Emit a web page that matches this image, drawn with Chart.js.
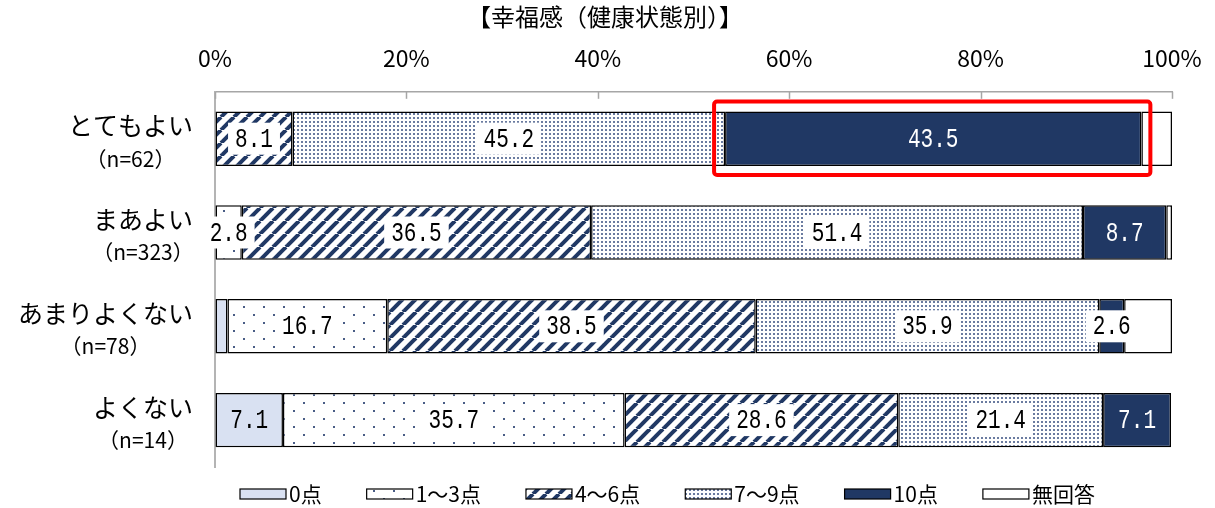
<!DOCTYPE html>
<html lang="ja">
<head>
<meta charset="utf-8">
<title>幸福感（健康状態別）</title>
<script src="https://cdn.jsdelivr.net/npm/chart.js@4.4.1/dist/chart.umd.min.js"></script>
<style>
  html, body { margin: 0; padding: 0; background: #fff; }
  #wrap { width: 1215px; height: 508px; }
</style>
</head>
<body>
<div id="wrap"><canvas id="chart" width="1215" height="508"></canvas></div>
<script>
const categories = ['とてもよい', 'まあよい', 'あまりよくない', 'よくない'];
const sampleSizes = ['（n=62）', '（n=323）', '（n=78）', '（n=14）'];
const seriesNames = ['0点', '1～3点', '4～6点', '7～9点', '10点', '無回答'];
const score0 = [0, 0, 1.3, 7.1];
const score1to3 = [0, 2.8, 16.7, 35.7];
const score4to6 = [8.1, 36.5, 38.5, 28.6];
const score7to9 = [45.2, 51.4, 35.9, 21.4];
const score10 = [43.5, 8.7, 2.6, 7.1];
const noAnswer = [3.2, 0.6, 5.0, 0];
const xTicks = [0, 20, 40, 60, 80, 100];

const NAVY = '#203864';
const FONT = "'Noto Sans CJK JP', 'Noto Sans', sans-serif";

// small tiles for the hatch/dot fills
function pat(w, h, draw) {
  const c = document.createElement('canvas');
  c.width = w; c.height = h;
  const g = c.getContext('2d');
  g.fillStyle = '#fff'; g.fillRect(0, 0, w, h);
  draw(g);
  return g.createPattern(c, 'repeat');
}
const sparseDots = pat(20, 16, g => { g.fillStyle = '#4a5d86'; g.fillRect(3, 2, 2, 2); g.fillRect(13, 10, 2, 2); });
const stripes = pat(13, 13, g => {
  g.strokeStyle = NAVY; g.lineWidth = 4;
  for (const k of [-1, 0, 1]) { g.beginPath(); g.moveTo(k * 13, 13); g.lineTo(k * 13 + 13, 0); g.stroke(); }
});
const denseDots = pat(4, 4, g => { g.fillStyle = '#6a7ba0'; g.fillRect(1, 1, 2, 2); });

const fills = ['#d9e1f2', sparseDots, stripes, denseDots, NAVY, '#fff'];
const values = [score0, score1to3, score4to6, score7to9, score10, noAnswer];

const datasets = seriesNames.map((name, i) => ({
  label: name, data: values[i], backgroundColor: fills[i],
  borderColor: '#000', borderWidth: 1.5, borderSkipped: false,
  barPercentage: 0.58, categoryPercentage: 1,
}));

const decor = {
  id: 'decor',
  afterDatasetsDraw(chart) {
    const ctx = chart.ctx, x = chart.scales.x, y = chart.scales.y, area = chart.chartArea;
    ctx.save();
    // inner tick marks on the top axis
    ctx.strokeStyle = '#a6a6a6'; ctx.lineWidth = 1.5;
    xTicks.forEach(v => { const px = Math.round(x.getPixelForValue(v)) + 0.5; ctx.beginPath(); ctx.moveTo(px, area.top); ctx.lineTo(px, area.top + 7); ctx.stroke(); });

    // value labels
    chart.data.datasets.forEach((ds, di) => {
      if (di === 5) return;
      chart.getDatasetMeta(di).data.forEach((el, i) => {
        const v = ds.data[i];
        if (v < 2) return;
        const cx = (el.x + el.base) / 2, cy = el.y;
        const txt = v.toFixed(1);
        ctx.font = "27px 'Liberation Mono'";
        const w = ctx.measureText(txt).width * 0.78;
        const light = di === 4 && v >= 5;
        if (!light && di !== 0) { ctx.fillStyle = '#fff'; ctx.fillRect(cx - w / 2 - 7, cy - 16, w + 14, 32); }
        ctx.save();
        ctx.translate(cx, cy + 1); ctx.scale(0.78, 1);
        ctx.fillStyle = light ? '#fff' : '#000';
        ctx.textAlign = 'center'; ctx.textBaseline = 'middle';
        ctx.fillText(txt, 0, 0);
        ctx.restore();
      });
    });

    // red highlight round the 10点 bar of the first row
    const hl = chart.getDatasetMeta(4).data[0];
    ctx.strokeStyle = '#ff0000'; ctx.lineWidth = 4;
    ctx.beginPath();
    ctx.roundRect(hl.base - 11, hl.y - hl.height / 2 - 10, hl.x - hl.base + 20, hl.height + 19, 3);
    ctx.stroke();

    // category labels, two centred lines right-aligned as a block
    ctx.fillStyle = '#000'; ctx.textAlign = 'center'; ctx.textBaseline = 'middle';
    categories.forEach((c, i) => {
      const cy = y.getPixelForValue(i);
      ctx.font = '25px ' + FONT;
      const w1 = ctx.measureText(c).width;
      const cx = area.left - 22 - w1 / 2;
      ctx.fillText(c, cx, cy - 13);
      ctx.font = '21px ' + FONT;
      ctx.fillText(sampleSizes[i], cx, cy + 20);
    });
    ctx.restore();
  },
  afterDraw(chart) {
    // legend along the bottom
    const ctx = chart.ctx;
    ctx.save();
    ctx.font = '21px ' + FONT; ctx.textBaseline = 'middle'; ctx.textAlign = 'left';
    let lx = 240; const ly = 494;
    chart.data.datasets.forEach(ds => {
      ctx.fillStyle = ds.backgroundColor; ctx.fillRect(lx, ly - 5, 46, 10);
      ctx.strokeStyle = '#000'; ctx.lineWidth = 1.2; ctx.strokeRect(lx, ly - 5, 46, 10);
      ctx.fillStyle = '#000'; ctx.fillText(ds.label, lx + 49, ly);
      lx += 49 + ctx.measureText(ds.label).width + 45;
    });
    ctx.restore();
  },
};

new Chart(document.getElementById('chart'), {
  type: 'bar',
  data: { labels: categories, datasets },
  options: {
    responsive: false, animation: false, indexAxis: 'y',
    layout: { padding: { left: 38, right: 43, top: 0, bottom: 41 } },
    plugins: {
      legend: { display: false }, tooltip: { enabled: false },
      title: { display: true, text: '【幸福感（健康状態別）】', color: '#000', font: { family: FONT, size: 24, weight: 'normal' }, padding: { top: 2, bottom: 4 } },
    },
    scales: {
      x: {
        position: 'top', stacked: true, min: 0, max: 100,
        afterFit: s => { s.height = 57; s.paddingLeft = 0; s.paddingRight = 30; },
        afterBuildTicks: s => { s.ticks = xTicks.map(v => ({ value: v })); },
        ticks: { callback: v => v + '%', color: '#000', font: { family: FONT, size: 23 }, padding: 20, maxRotation: 0 },
        grid: { drawOnChartArea: false, drawTicks: false },
        border: { color: '#a6a6a6', width: 1.5 },
      },
      y: {
        stacked: true,
        afterFit: s => { s.width = 177; },
        ticks: { display: false },
        grid: { display: false },
        border: { color: '#b4b4b4', width: 2 },
      },
    },
  },
  plugins: [decor],
});
</script>
</body>
</html>
